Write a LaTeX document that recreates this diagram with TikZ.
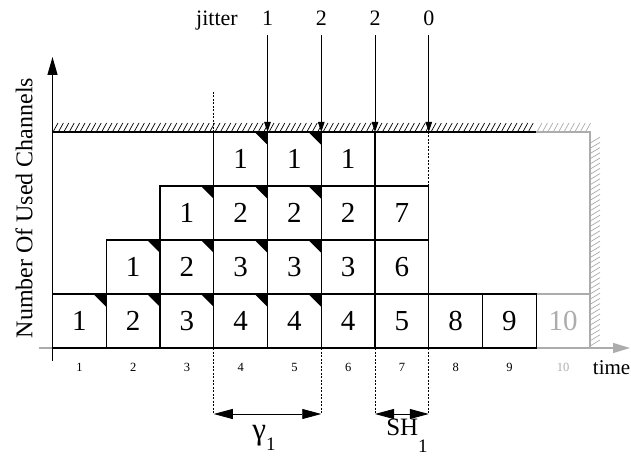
\documentclass[tikz,border=0pt]{standalone}
\usepackage{fontspec}
\setmainfont{Liberation Serif}
\usepackage{xcolor}
\usetikzlibrary{arrows.meta, positioning}
\definecolor{wallgray}{RGB}{172,172,172}
\tikzset{
  slot/.style={
    draw,
    line width=1.3pt,
    minimum width=53.75pt,
    minimum height=54pt,
    inner sep=0pt,
    outer sep=0pt,
    font=\fontsize{29}{31}\selectfont
  },
  flag/.style={
    path picture={\fill (path picture bounding box.north east) -- ++(-13pt,0pt) -- ++(13pt,-13pt) -- cycle;}
  },
  ghost/.style={draw=wallgray, text=wallgray},
  tick/.style={inner sep=0pt, font=\fontsize{12.5}{13}\selectfont},
  lab/.style={inner sep=0pt},
  hatch/.style={line width=0.7pt},
  guide/.style={line width=0.7pt, dash pattern=on 2pt off 1.5pt},
  jit/.style={-{Triangle[length=10pt,width=6.5pt]}, line width=0.8pt},
  span/.style={{Triangle[length=19pt,width=10pt]}-{Triangle[length=19pt,width=10pt]}, line width=0.8pt},
  yaxis/.style={-{Triangle[length=18pt,width=10pt]}, line width=1.2pt},
  xaxis/.style={-{Triangle[length=17pt,width=10pt]}, line width=1.2pt, wallgray}
}
\begin{document}
\begin{tikzpicture}[x=1pt, y=1pt, font=\fontsize{22}{24}\selectfont]
\useasboundingbox (0,0) rectangle (631,464);

% axes
\coordinate (xl) at (39,116);
\coordinate (xr) at (630,116);
\coordinate (yb) at (52.5,103);
\coordinate (yt) at (52.5,407);
\draw[xaxis] (xl) -- (xr);
\draw[yaxis] (yb) -- (yt);

% capacity ceiling and wall
\coordinate (cl) at (52.5,332);
\coordinate (cm) at (536.25,332);
\coordinate (cr) at (590,332);
\coordinate (wb) at (590,116);
\foreach \x in {53,58.4,...,531} \draw[hatch] (\x,332) -- ++(5,9);
\foreach \x in {537,542.4,...,586} \draw[hatch, wallgray] (\x,332) -- ++(5,9);
\foreach \y in {118,123.2,...,324} \draw[hatch, wallgray] (590,\y) -- ++(10,6);
\draw[line width=1.3pt] (cl) -- (cm);
\draw[line width=1.3pt, wallgray] (cm) -- (cr) -- (wb);

% used channels
\node[slot, ghost] (a10) at (563.125,143) {10};
\node[slot, flag] (a1) at (79.375,143) {1};
\node[slot, flag, right=0pt of a1] (a2) {2};
\node[slot, flag, right=0pt of a2] (a3) {3};
\node[slot, flag, right=0pt of a3] (a4) {4};
\node[slot, flag, right=0pt of a4] (a5) {4};
\node[slot, right=0pt of a5] (a6) {4};
\node[slot, right=0pt of a6] (a7) {5};
\node[slot, right=0pt of a7] (a8) {8};
\node[slot, right=0pt of a8] (a9) {9};

\node[slot, flag, above=0pt of a2] (b2) {1};
\node[slot, flag, above=0pt of a3] (b3) {2};
\node[slot, flag, above=0pt of a4] (b4) {3};
\node[slot, flag, above=0pt of a5] (b5) {3};
\node[slot, above=0pt of a6] (b6) {3};
\node[slot, above=0pt of a7] (b7) {6};

\node[slot, flag, above=0pt of b3] (c3) {1};
\node[slot, flag, above=0pt of b4] (c4) {2};
\node[slot, flag, above=0pt of b5] (c5) {2};
\node[slot, above=0pt of b6] (c6) {2};
\node[slot, above=0pt of b7] (c7) {7};

\node[slot, flag, above=0pt of c4] (d4) {1};
\node[slot, flag, above=0pt of c5] (d5) {1};
\node[slot, above=0pt of c6] (d6) {1};

% time slots
\node[tick, below=15pt of a1] (t1) {1};
\node[tick, below=15pt of a2] (t2) {2};
\node[tick, below=15pt of a3] (t3) {3};
\node[tick, below=15pt of a4] (t4) {4};
\node[tick, below=15pt of a5] (t5) {5};
\node[tick, below=15pt of a6] (t6) {6};
\node[tick, below=15pt of a7] (t7) {7};
\node[tick, below=15pt of a8] (t8) {8};
\node[tick, below=15pt of a9] (t9) {9};
\node[tick, below=15pt of a10, text=wallgray] (t10) {10};
\node[lab, anchor=east, font=\fontsize{21}{23}\selectfont] (tm) at (630.5,96) {time};
\node[lab, rotate=90, font=\fontsize{24}{26}\selectfont] (ylab) at (24,256) {Number Of Used Channels};

% jitter
\node[lab, anchor=base] (jt) at (217,438) {jitter};
\node[lab, anchor=base] (j1) at (267.5,438) {1};
\node[lab, anchor=base] (j2) at (321.25,438) {2};
\node[lab, anchor=base] (j3) at (375,438) {2};
\node[lab, anchor=base] (j4) at (428.75,438) {0};
\coordinate (h1) at (267.5,332);
\coordinate (h2) at (321.25,332);
\coordinate (h3) at (375,332);
\coordinate (h4) at (428.75,332);
\draw[jit, shorten <=9pt] (j1) -- (h1);
\draw[jit, shorten <=9pt] (j2) -- (h2);
\draw[jit, shorten <=9pt] (j3) -- (h3);
\draw[jit, shorten <=9pt] (j4) -- (h4);

% spans
\coordinate (q4) at (213.75,372);
\coordinate (gl) at (213.75,50);
\coordinate (gr) at (321.25,50);
\coordinate (sl) at (375,50);
\coordinate (sr) at (428.75,50);
\draw[guide] (q4) -- (d4.north west);
\draw[guide] (h4) -- (c7.north east);
\draw[guide] (a4.south west) -- (gl);
\draw[guide] (a6.south west) -- (gr);
\draw[guide] (a7.south west) -- (sl);
\draw[guide] (a7.south east) -- (sr);
\draw[span] (gl) -- (gr);
\draw[span] (sl) -- (sr);
\node[lab, font=\fontsize{31}{33}\selectfont] (gam) at (264,26) {γ\raisebox{-11pt}{\fontsize{19}{20}\selectfont 1}};
\node[lab, font=\fontsize{25}{27}\selectfont] (sh) at (407,28) {SH\raisebox{-17pt}{\fontsize{19}{20}\selectfont 1}};
\end{tikzpicture}
\end{document}
